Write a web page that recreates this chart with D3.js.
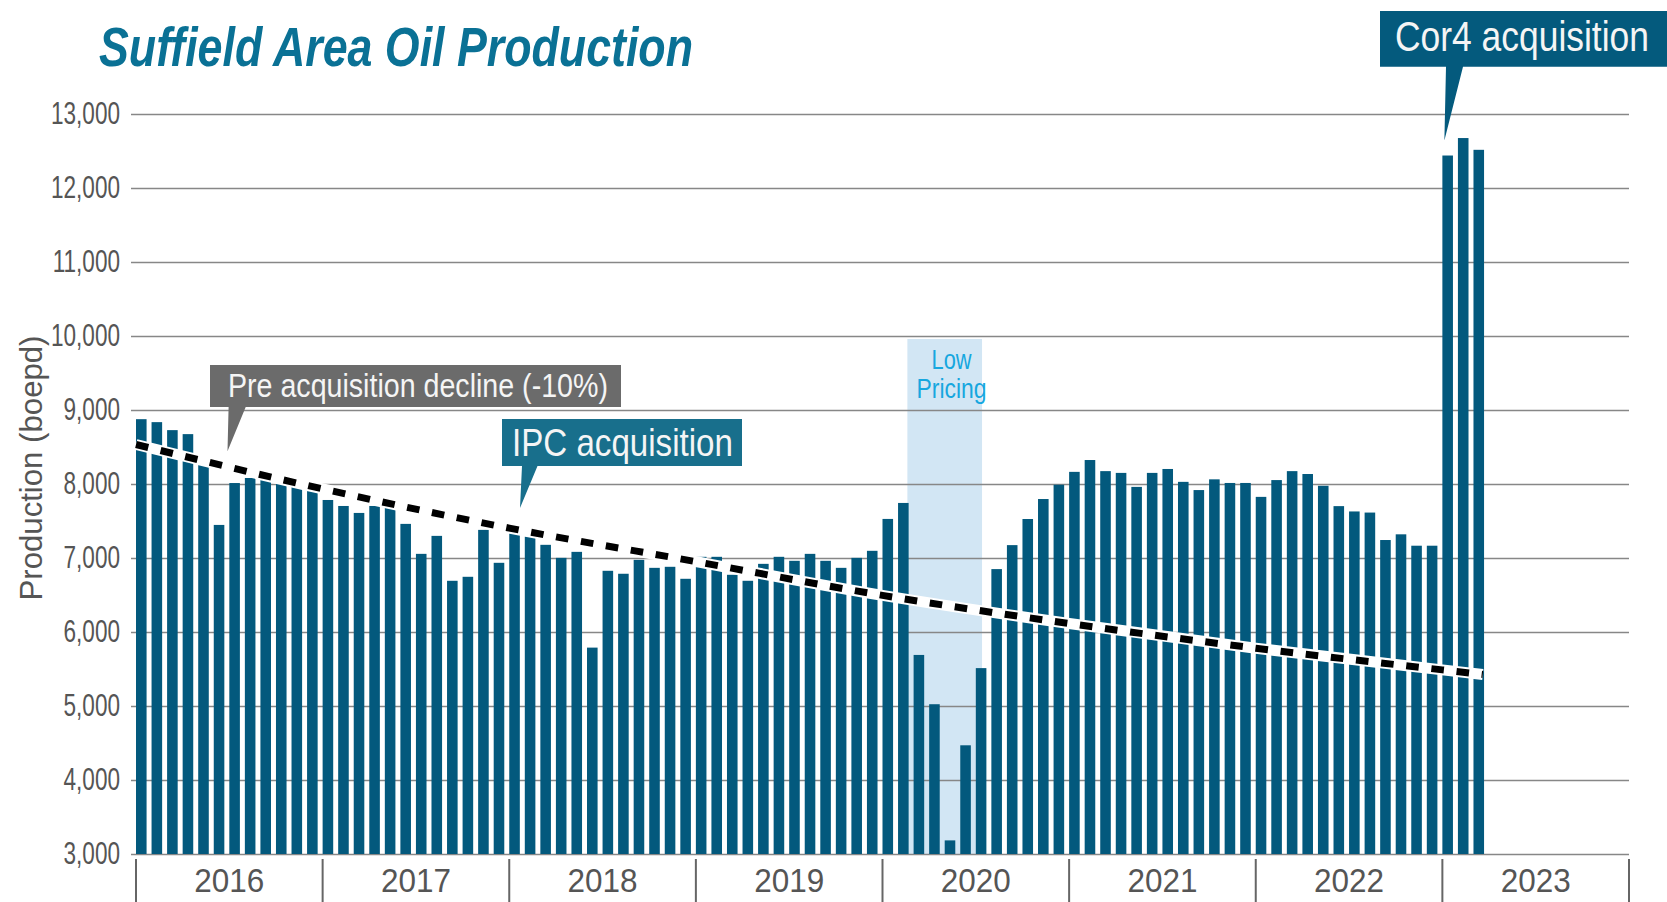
<!DOCTYPE html>
<html>
<head>
<meta charset="utf-8">
<script src="https://cdn.jsdelivr.net/npm/d3@7"></script>
<style>
  html, body { margin: 0; padding: 0; background: #ffffff; }
  svg { display: block; }
  text { font-family: "Liberation Sans Narrow", "Arial Narrow", "Liberation Sans", Arial, sans-serif; }
</style>
</head>
<body>
<svg id="chart" width="1667" height="902"></svg>
<script>
// ---------------- DATA ----------------
const chartTitle = "Suffield Area Oil Production";
const yAxisTitle = "Production (boepd)";
const years = ["2016", "2017", "2018", "2019", "2020", "2021", "2022", "2023"];

// Monthly production (boepd)
const prod2016 = [8876, 8836, 8728, 8674, 8261, 7447, 8013, 8081, 8072, 8022, 7969, 7919];
const prod2017 = [7784, 7703, 7609, 7703, 7694, 7461, 7056, 7299, 6692, 6746, 7380, 6935];
const prod2018 = [7335, 7294, 7178, 7002, 7083, 5789, 6827, 6787, 6975, 6867, 6881, 6719];
const prod2019 = [7016, 7016, 6773, 6692, 6921, 7016, 6962, 7056, 6962, 6867, 7002, 7097];
const prod2020 = [7528, 7744, 5690, 5024, 3184, 4469, 5512, 6850, 7174, 7527, 7797, 7990];
const prod2021 = [8164, 8324, 8174, 8150, 7961, 8150, 8203, 8029, 7918, 8063, 8014, 8014];
const prod2022 = [7826, 8053, 8174, 8135, 7976, 7701, 7629, 7614, 7243, 7320, 7166, 7166];
const prod2023 = [12439, 12675, 12516];

const yTickValues = [3000, 4000, 5000, 6000, 7000, 8000, 9000, 10000, 11000, 12000, 13000];

// Pre-acquisition decline trend, read at month indices (0 = Jan 2016)
const trendMonth = [0, 12, 24, 36, 48, 60, 72, 84, 86.6];
const trendValue = [8534, 7934, 7404, 6951, 6495, 6115, 5781, 5488, 5426];

// Low pricing period (month-index span) and annotations
const lowPricingSpan = [49.6, 54.4];
const lowPricingLines = ["Low", "Pricing"];
const calloutTexts = ["Pre acquisition decline (-10%)", "IPC acquisition", "Cor4 acquisition"];

// ---------------- LAYOUT ----------------
const W = 1667, H = 902;
const plotL = 136, plotR = 1629, plotT = 114, plotB = 854;
const gridL = 131;
const C = {
  bar: "#03597d", title: "#0a7195", label: "#555555", grid: "#878787",
  band: "#d2e6f4", bandText: "#17a7df", gray: "#6b6b6b", ipc: "#186f8c", cor4: "#045a7d"
};

const svg = d3.select("#chart");

const production = [].concat(prod2016, prod2017, prod2018, prod2019, prod2020, prod2021, prod2022, prod2023);
const monthKeys = [];
years.forEach(yr => { for (let m = 1; m <= 12; m++) monthKeys.push(yr + "-" + m); });
const barData = production.map((v, i) => ({ key: monthKeys[i], value: v }));

const xBand = d3.scaleBand().domain(monthKeys).range([plotL, plotR])
  .paddingInner(0.32).paddingOuter(0.16).align(0);
const xm = d3.scaleLinear().domain([0, monthKeys.length]).range([plotL, plotR]);
const y = d3.scaleLinear().domain([3000, 13000]).range([plotB, plotT]);

// helper: condensed text via textLength
function fit(sel, width) {
  sel.attr("textLength", width).attr("lengthAdjust", "spacingAndGlyphs");
}
// helper: condensed text via horizontal scale transform (text placed at x0, baseline yb)
function squeeze(sel, x0, yb, width) {
  const n = sel.node();
  const k = width / n.getComputedTextLength();
  sel.attr("x", 0).attr("y", 0).attr("transform", `translate(${x0},${yb}) scale(${k},1)`);
}

// ---------------- TITLE ----------------
svg.append("text")
  .attr("x", 99).attr("y", 66)
  .attr("font-size", 56).attr("font-weight", "bold").attr("font-style", "italic")
  .attr("fill", C.title)
  .text(chartTitle)
  .call(fit, 594);

// ---------------- LOW PRICING BAND ----------------
svg.append("rect")
  .attr("x", xm(lowPricingSpan[0]))
  .attr("y", y(10000) + 3)
  .attr("width", xm(lowPricingSpan[1]) - xm(lowPricingSpan[0]))
  .attr("height", plotB - (y(10000) + 3))
  .attr("fill", C.band);

const bandCx = xm(lowPricingSpan[1]) - 30.5;
const bandTextWidths = [40, 70];
lowPricingLines.forEach((t, i) => {
  svg.append("text")
    .attr("x", bandCx - bandTextWidths[i] / 2)
    .attr("y", 369 + i * 28.5)
    .attr("font-size", 28)
    .attr("fill", C.bandText)
    .text(t)
    .call(fit, bandTextWidths[i]);
});

// ---------------- Y AXIS / GRID ----------------
const yAxis = d3.axisLeft(y).tickValues(yTickValues)
  .tickSize(-(plotR - gridL)).tickPadding(11)
  .tickFormat(d3.format(","));
const gy = svg.append("g").attr("transform", `translate(${gridL},0)`).call(yAxis);
gy.select(".domain").remove();
gy.selectAll(".tick line").attr("stroke", C.grid).attr("stroke-width", 1.6);
gy.selectAll(".tick text")
  .attr("font-size", 31).attr("fill", C.label)
  .attr("dy", "0.32em").attr("text-anchor", "start");
// condensed numbers, right-aligned at x = 120 (absolute)
(function () {
  const texts = gy.selectAll(".tick text").nodes();
  const ref = texts.find(n => n.textContent === "13,000");
  const k = 69 / ref.getComputedTextLength();
  texts.forEach(n => {
    const w = n.getComputedTextLength() * k;
    d3.select(n).attr("x", (120 - gridL) - w).call(fit, w);
  });
})();

// Y axis title
svg.append("text")
  .attr("transform", `translate(42,468) rotate(-90)`)
  .attr("text-anchor", "start")
  .attr("x", -132.5)
  .attr("font-size", 31).attr("fill", C.label)
  .text(yAxisTitle)
  .call(fit, 265);

// ---------------- BARS ----------------
svg.append("g").selectAll("rect").data(barData).join("rect")
  .attr("x", d => xBand(d.key))
  .attr("y", d => y(d.value))
  .attr("width", xBand.bandwidth())
  .attr("height", d => y(3000) - y(d.value))
  .attr("fill", C.bar);

// ---------------- X AXIS (years) ----------------
const gx = svg.append("g");
const tickIdx = d3.range(0, monthKeys.length + 1, 12);
gx.selectAll("line").data(tickIdx).join("line")
  .attr("x1", d => xm(d)).attr("x2", d => xm(d))
  .attr("y1", 859).attr("y2", H)
  .attr("stroke", "#666").attr("stroke-width", 2);
const yearTexts = gx.selectAll("text").data(years).join("text")
  .attr("y", 892)
  .attr("font-size", 33).attr("fill", C.label)
  .text(d => d);
(function () {
  const nodes = yearTexts.nodes();
  const k = 70 / nodes[0].getComputedTextLength();
  nodes.forEach((n, i) => {
    const w = n.getComputedTextLength() * k;
    const cx = xm(i * 12 + 6);
    d3.select(n).attr("x", cx - w / 2).call(fit, w);
  });
})();

// ---------------- TREND LINE ----------------
const trendData = trendMonth.map((m, i) => ({ m: m, v: trendValue[i] }));
const trendLine = d3.line().x(d => xm(d.m)).y(d => y(d.v)).curve(d3.curveMonotoneX);
svg.append("path").datum(trendData)
  .attr("d", trendLine).attr("fill", "none")
  .attr("stroke", "#ffffff").attr("stroke-width", 11);
svg.append("path").datum(trendData)
  .attr("d", trendLine).attr("fill", "none")
  .attr("stroke", "#000000").attr("stroke-width", 7)
  .attr("stroke-dasharray", "12.6,12.7");

// ---------------- CALLOUTS ----------------
function callout(box, ptr, color, text, tx, tBase, fs, tw) {
  const [x0, y0, x1, y1] = box;
  const [p0, p1, tipX, tipY] = ptr;
  const path = d3.path();
  path.moveTo(x0, y0); path.lineTo(x1, y0); path.lineTo(x1, y1);
  path.lineTo(p1, y1); path.lineTo(tipX, tipY); path.lineTo(p0, y1);
  path.lineTo(x0, y1); path.closePath();
  svg.append("path").attr("d", path.toString()).attr("fill", color);
  svg.append("text")
    .attr("font-size", fs).attr("fill", "#f5f5f5")
    .text(text).call(squeeze, tx, tBase, tw);
}
// Pre acquisition decline: points at trend line in mid 2016
callout([210, 365, 621, 407], [228.6, 245.7, 227.5, y(trendValue[0] - (trendValue[0] - trendValue[1]) * 5.9 / 12) - 15],
  C.gray, calloutTexts[0], 228, 397, 33, 380);
// IPC acquisition: points at trend near Jan 2018
callout([502, 419, 742, 466], [522, 537.5, 520, y(trendValue[2] - (trendValue[2] - trendValue[3]) * 0.7 / 12) - 22],
  C.ipc, calloutTexts[1], 512, 456, 39, 221);
// Cor4 acquisition: points at first 2023 bar
callout([1380, 11, 1667, 66.7], [1446, 1463, xBand("2023-1") + 2, y(prod2023[0]) - 15],
  C.cor4, calloutTexts[2], 1395, 51, 42, 254);
</script>
</body>
</html>
